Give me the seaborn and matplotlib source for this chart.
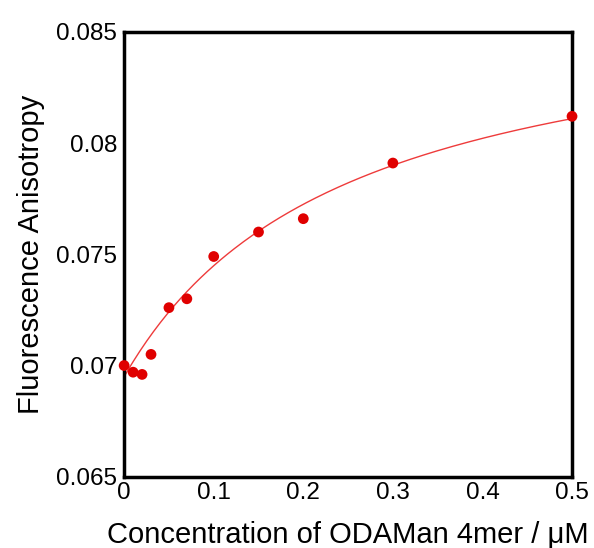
import numpy as np
import pandas as pd
import seaborn as sns
import matplotlib
matplotlib.use("Agg")
import matplotlib.pyplot as plt

conc = [0.0, 0.01, 0.02, 0.03, 0.05, 0.07, 0.10, 0.15, 0.20, 0.30, 0.50]
aniso = [0.0700, 0.0697, 0.0696, 0.0705, 0.0726, 0.0730, 0.0749, 0.0760, 0.0766, 0.0791, 0.0812]

# hyperbolic binding fit parameters (estimated from the drawn curve)
fit_r0 = 0.0695
fit_dr = 0.01735
fit_kd = 0.248

data = pd.DataFrame({"conc": conc, "aniso": aniso})
xfit = np.linspace(0, 0.5, 200)
fit = pd.DataFrame({"conc": xfit, "aniso": fit_r0 + fit_dr * xfit / (fit_kd + xfit)})

sns.set_style("white")
plt.rcParams["font.family"] = ["Liberation Sans", "DejaVu Sans"]
plt.rcParams["text.color"] = "black"
plt.rcParams["axes.labelcolor"] = "black"

fig = plt.figure(figsize=(5.94, 5.48), dpi=100)
ax = fig.add_axes([0.209, 0.130, 0.754, 0.812])

sns.lineplot(data=fit, x="conc", y="aniso", color="#ee3b3b", linewidth=1.0, ax=ax)
sns.scatterplot(data=data, x="conc", y="aniso", color="#e00000", s=60,
                edgecolor="none", ax=ax, zorder=5, clip_on=False)

ax.set_xlim(0, 0.5)
ax.set_ylim(0.065, 0.085)
ax.set_xticks([0, 0.1, 0.2, 0.3, 0.4, 0.5])
ax.set_xticklabels(["0", "0.1", "0.2", "0.3", "0.4", "0.5"])
ax.set_yticks([0.065, 0.07, 0.075, 0.08, 0.085])
ax.set_yticklabels(["0.065", "0.07", "0.075", "0.08", "0.085"])
ax.tick_params(direction="in", length=6, width=2, labelsize=17.5, pad=5,
               colors="black")
ax.tick_params(axis="x", length=0, pad=4)
for s in ax.spines.values():
    s.set_linewidth(2.5)
    s.set_color("black")

ax.set_xlabel("Concentration of ODAMan 4mer / \u03bcM", fontsize=21, labelpad=12)
ax.set_ylabel("Fluorescence Anisotropy", fontsize=21, labelpad=8)

fig.savefig("out.png", dpi=100)
